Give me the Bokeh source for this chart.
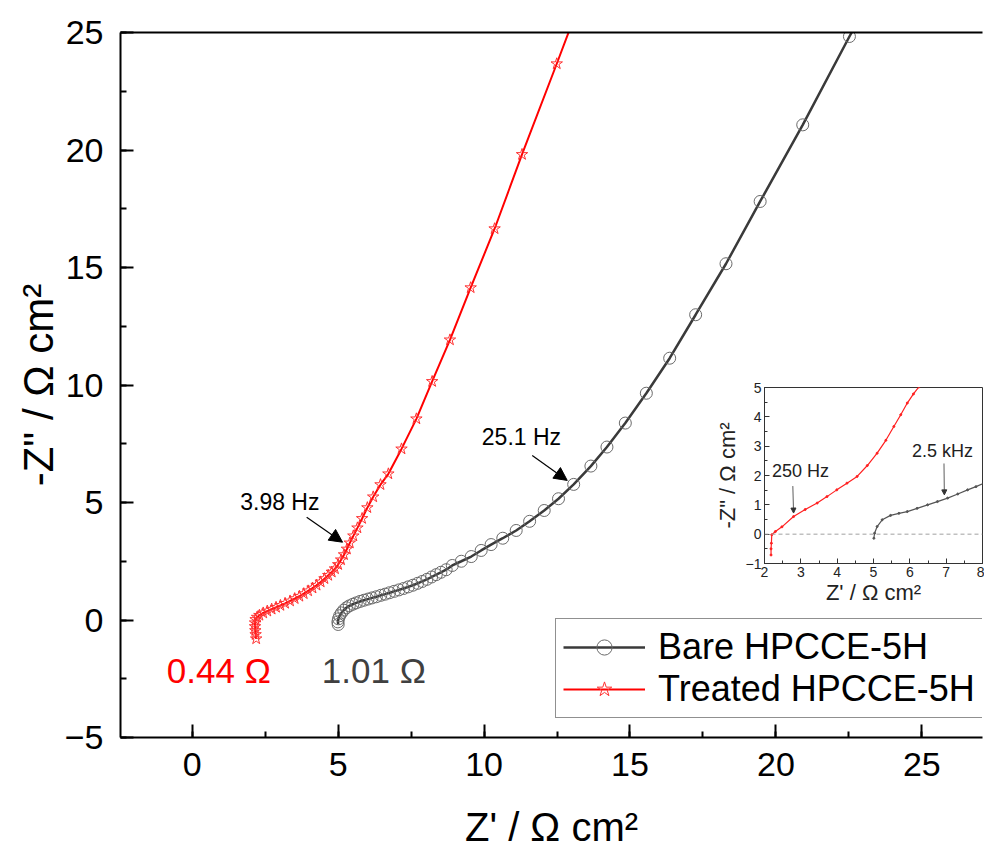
from bokeh.plotting import figure
from bokeh.models import (Range1d, Arrow, NormalHead, Label, Span, Legend, LegendItem,
                          LinearAxis, FixedTicker, SingleIntervalTicker)
from bokeh.layouts import column
from bokeh.embed import file_html
from bokeh.resources import INLINE

FONT = "Liberation Sans"

# ---------------- data ----------------
bare_x = [5.00, 4.99, 5.01, 5.05, 5.11, 5.19, 5.28, 5.38, 5.50, 5.62, 5.75, 5.88, 6.02, 6.16,
          6.31, 6.46, 6.61, 6.76, 6.92, 7.08, 7.24, 7.40, 7.56, 7.72, 7.88, 8.04, 8.20, 8.36,
          8.52, 8.70, 8.91, 9.22, 9.56, 9.90, 10.24, 10.64, 11.10, 11.56, 12.06, 12.55, 13.07,
          13.66, 14.21, 14.84, 15.56, 16.36, 17.25, 18.29, 19.46, 20.92, 22.52, 24.20]
bare_y = [-0.19, -0.08, 0.05, 0.18, 0.30, 0.42, 0.52, 0.60, 0.67, 0.73, 0.79, 0.84, 0.89, 0.94,
          0.99, 1.05, 1.10, 1.16, 1.22, 1.28, 1.34, 1.41, 1.48, 1.56, 1.64, 1.73, 1.83, 1.93,
          2.03, 2.14, 2.32, 2.50, 2.70, 2.96, 3.21, 3.48, 3.81, 4.20, 4.66, 5.16, 5.77,
          6.55, 7.36, 8.38, 9.65, 11.14, 12.99, 15.16, 17.81, 21.07, 24.83, 28.60]

treated_x = [2.19, 2.17, 2.16, 2.15, 2.15, 2.17, 2.22, 2.30, 2.43, 2.57, 2.72, 2.87, 3.02, 3.18,
             3.35, 3.51, 3.67, 3.82, 3.97, 4.12, 4.26, 4.40, 4.53, 4.66, 4.78, 4.89, 5.00, 5.10,
             5.20, 5.30, 5.40, 5.52, 5.66, 5.82, 6.00, 6.20, 6.45, 6.72, 7.17, 7.68, 8.22, 8.83,
             9.54, 10.36, 11.30, 12.49, 13.35]
treated_y = [-0.80, -0.62, -0.45, -0.28, -0.12, 0.02, 0.12, 0.20, 0.30, 0.38, 0.46, 0.54, 0.62, 0.71,
             0.81, 0.91, 1.01, 1.12, 1.24, 1.36, 1.48, 1.62, 1.76, 1.90, 2.04, 2.18, 2.36, 2.56,
             2.78, 3.02, 3.28, 3.58, 3.92, 4.32, 4.78, 5.24, 5.76, 6.22, 7.28, 8.56, 10.15, 11.92,
             14.14, 16.65, 19.81, 23.67, 26.50]

# inset (zoomed view)
inset_bare_x = [5.01, 5.03, 5.10, 5.24, 5.47, 5.70, 5.93, 6.20, 6.49, 6.76, 7.04, 7.32, 7.59, 7.82, 8.05]
inset_bare_y = [-0.14, 0.03, 0.26, 0.49, 0.64, 0.71, 0.77, 0.88, 1.00, 1.11, 1.23, 1.37, 1.51, 1.62, 1.74]
inset_treated_x = [2.18, 2.18, 2.19, 2.20, 2.30, 2.48, 2.80, 3.12, 3.45, 3.72, 3.99, 4.27, 4.55,
                   4.83, 5.10, 5.34, 5.56, 5.75, 5.93, 6.10, 6.25, 6.40]
inset_treated_y = [-0.71, -0.50, -0.31, -0.02, 0.09, 0.25, 0.60, 0.84, 1.06, 1.28, 1.51, 1.74, 1.97,
                   2.34, 2.76, 3.20, 3.67, 4.07, 4.47, 4.78, 5.02, 5.30]

series_names = ["Bare HPCCE-5H", "Treated HPCCE-5H"]
x_label = "Z' / Ω cm²"
y_label = '-Z" / Ω cm²'

# ---------------- main figure ----------------
p = figure(width=984, height=857, x_range=Range1d(-2.46, 27.08), y_range=Range1d(-5, 25),
           output_backend="svg", toolbar_location=None,
           min_border_left=120, min_border_right=0, min_border_top=32, min_border_bottom=120)
p.outline_line_color = None
p.grid.visible = False
p.background_fill_color = "white"
p.border_fill_color = "white"

p.xaxis.ticker = SingleIntervalTicker(interval=5, num_minor_ticks=2)
p.yaxis.ticker = SingleIntervalTicker(interval=5, num_minor_ticks=2)
for ax in (p.xaxis[0], p.yaxis[0]):
    ax.axis_line_width = 2
    ax.axis_line_color = "black"
    ax.major_tick_in = 13
    ax.major_tick_out = 0
    ax.minor_tick_in = 6
    ax.minor_tick_out = 0
    ax.major_tick_line_width = 2
    ax.minor_tick_line_width = 2
    ax.major_tick_line_color = "black"
    ax.minor_tick_line_color = "black"
    ax.major_label_text_font = FONT
    ax.major_label_text_font_size = "34px"
    ax.major_label_text_color = "black"
    ax.axis_label_text_font = FONT
    ax.axis_label_text_font_size = "40px"
    ax.axis_label_text_font_style = "normal"
    ax.axis_label_text_color = "black"
p.xaxis.axis_label = x_label
p.yaxis.axis_label = y_label
p.yaxis.axis_label_text_font_size = "42px"
p.xaxis.major_label_standoff = 15
p.yaxis.major_label_standoff = 17
p.xaxis.axis_label_standoff = 26
p.yaxis.axis_label_standoff = 0

top_axis = LinearAxis(ticker=FixedTicker(ticks=[]), axis_line_width=2, axis_line_color="black",
                      major_label_text_font_size="0px", major_tick_line_color=None,
                      minor_tick_line_color=None)
p.add_layout(top_axis, "above")

r_bare_line = p.line(bare_x, bare_y, line_color="#3a3a3a", line_width=2.5)
r_bare_pts = p.scatter(bare_x, bare_y, marker="circle", size=12, fill_color=None,
                       line_color="#6a6a6a", line_width=1)
r_tr_line = p.line(treated_x, treated_y, line_color="#ff0000", line_width=2)
r_tr_pts = p.scatter(treated_x, treated_y, marker="star", size=12, fill_color=None,
                     line_color="#ff3030", line_width=1)

legend = Legend(items=[LegendItem(label=series_names[0], renderers=[r_bare_line, r_bare_pts]),
                       LegendItem(label=series_names[1], renderers=[r_tr_line, r_tr_pts])],
                location=(435, 19), label_text_font=FONT, label_text_font_size="36px",
                label_text_color="black",
                glyph_width=82, glyph_height=38, label_standoff=13, padding=7, margin=0,
                spacing=0, border_line_color="#222222", border_line_width=1.2,
                background_fill_color="white", background_fill_alpha=1)
p.add_layout(legend)

# annotations
p.add_layout(Arrow(end=NormalHead(size=13, fill_color="black", line_color="black"),
                   x_start=3.92, y_start=4.37, x_end=5.15, y_end=3.31,
                   line_color="black", line_width=1.2))
p.add_layout(Arrow(end=NormalHead(size=13, fill_color="black", line_color="black"),
                   x_start=11.65, y_start=7.0, x_end=12.85, y_end=5.94,
                   line_color="black", line_width=1.2))
p.add_layout(Label(x=3.0, y=5.02, text="3.98 Hz", text_align="center", text_baseline="middle",
                   text_font=FONT, text_font_size="23px", text_color="black"))
p.add_layout(Label(x=11.28, y=7.77, text="25.1 Hz", text_align="center", text_baseline="middle",
                   text_font=FONT, text_font_size="23px", text_color="black"))
p.add_layout(Label(x=0.91, y=-2.17, text="0.44 Ω", text_align="center", text_baseline="middle",
                   text_font=FONT, text_font_size="35px", text_color="#ff0000"))
p.add_layout(Label(x=6.22, y=-2.17, text="1.01 Ω", text_align="center", text_baseline="middle",
                   text_font=FONT, text_font_size="35px", text_color="#404040"))

# ---------------- inset ----------------
q = figure(width=340, height=240, x_range=Range1d(2, 8), y_range=Range1d(-1, 5),
           output_backend="svg", toolbar_location=None,
           min_border_left=120, min_border_right=2, min_border_top=17, min_border_bottom=47,
           styles={"position": "absolute", "left": "644px", "top": "370px", "z-index": "5"})
q.grid.visible = False
q.outline_line_color = "#333333"
q.outline_line_width = 1
q.background_fill_color = "white"
q.border_fill_color = None
q.border_fill_alpha = 0
q.xaxis.ticker = SingleIntervalTicker(interval=1, num_minor_ticks=2)
q.yaxis.ticker = SingleIntervalTicker(interval=1, num_minor_ticks=2)
for ax in (q.xaxis[0], q.yaxis[0]):
    ax.axis_line_width = 1
    ax.axis_line_color = "#333333"
    ax.major_tick_in = 5
    ax.major_tick_out = 0
    ax.minor_tick_in = 3
    ax.minor_tick_out = 0
    ax.major_tick_line_color = "#333333"
    ax.minor_tick_line_color = "#333333"
    ax.major_label_text_font = FONT
    ax.major_label_text_font_size = "14px"
    ax.major_label_text_color = "#222222"
    ax.axis_label_text_font = FONT
    ax.axis_label_text_font_size = "22px"
    ax.axis_label_text_font_style = "normal"
    ax.axis_label_text_color = "#222222"
    ax.major_label_standoff = 3
q.xaxis.axis_label = x_label
q.yaxis.axis_label = y_label
q.xaxis.axis_label_standoff = 0
q.yaxis.axis_label_standoff = 3

q.add_layout(Span(location=0, dimension="width", line_color="#a0a0a0", line_dash="4 3", line_width=1))
q.line(inset_bare_x, inset_bare_y, line_color="#555555", line_width=1.2)
q.scatter(inset_bare_x, inset_bare_y, marker="circle", size=2, color="#555555")
q.line(inset_treated_x, inset_treated_y, line_color="#ff2020", line_width=1.2)
q.scatter(inset_treated_x, inset_treated_y, marker="circle", size=2, color="#ff2020")

q.add_layout(Arrow(end=NormalHead(size=5, fill_color="#333333", line_color="#333333"),
                   x_start=2.78, y_start=1.64, x_end=2.80, y_end=0.72,
                   line_color="#333333", line_width=0.8))
q.add_layout(Arrow(end=NormalHead(size=5, fill_color="#333333", line_color="#333333"),
                   x_start=6.94, y_start=2.41, x_end=6.95, y_end=1.34,
                   line_color="#333333", line_width=0.8))
q.add_layout(Label(x=2.99, y=2.14, text="250 Hz", text_align="center", text_baseline="middle",
                   text_font=FONT, text_font_size="18px", text_color="#222222"))
q.add_layout(Label(x=6.90, y=2.84, text="2.5 kHz", text_align="center", text_baseline="middle",
                   text_font=FONT, text_font_size="18px", text_color="#222222"))

layout = column(p, q)
open("out.html", "w").write(file_html(layout, INLINE))
